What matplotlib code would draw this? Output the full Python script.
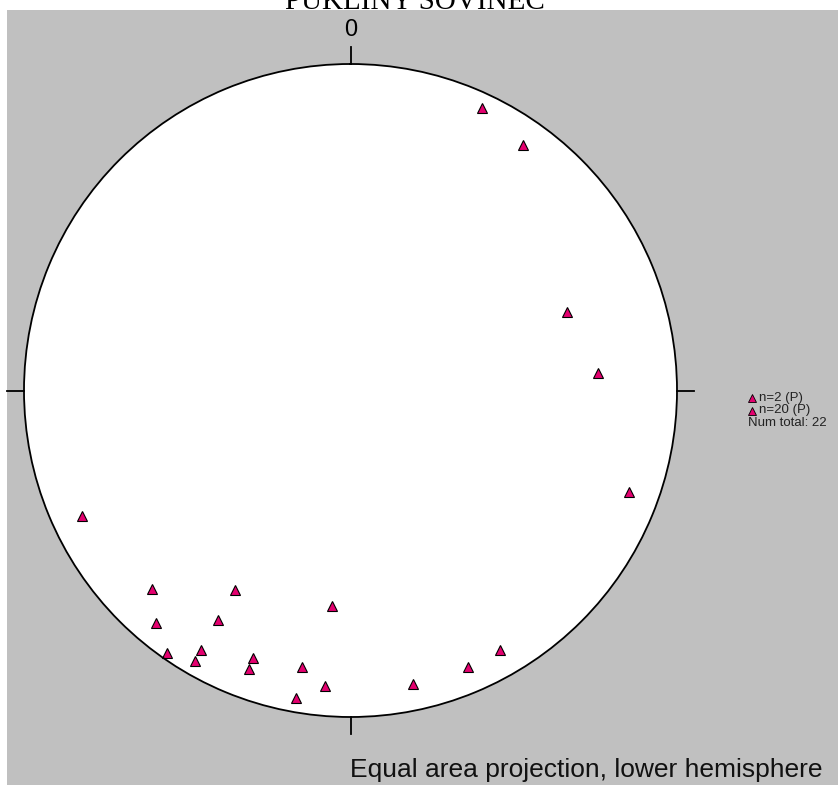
"""
Stereogram of joint poles (equal area, lower hemisphere)
"""
import numpy as np
import matplotlib
matplotlib.use('Agg')
import matplotlib.pyplot as plt
from matplotlib.lines import Line2D
from matplotlib.patches import Rectangle

plt.rcParams['font.family'] = ['Liberation Sans', 'DejaVu Sans']

TITLE = 'PUKLINY SOVINEC'
FOOTER = 'Equal area projection, lower hemisphere'

# first set of poles (trend / plunge in degrees)
trend_1 = [25, 35]
plunge_1 = [5, 9]

# second set of poles
trend_2 = [70, 86, 110, 245, 225, 210, 185, 220, 210, 215,
           210, 210, 200, 200, 190, 190, 185, 168, 157, 150]
plunge_2 = [30, 25, 10, 10, 15, 30, 34, 8, 20, 2,
            9, 5, 14, 10, 15, 5, 10, 9, 9, 9]

legend_labels = ['n=2 (P)', 'n=20 (P)']
total_label = 'Num total: 22'

POLE_COLOR = '#E4006F'


def equal_area(plunge):
    """Rayon normalise de la projection de Schmidt (1 = primitive)"""
    p = np.radians(90 - np.asarray(plunge, dtype=float))
    return np.sqrt(2) * np.sin(p / 2)


def makePlot():
    W, H = 838, 785
    fig = plt.figure(figsize=(W / 100, H / 100), dpi=100, facecolor='white')

    # fond gris (marge blanche en haut et a gauche)
    fig.add_artist(Rectangle((7 / W, 0), 1 - 7 / W, 1 - 10 / H,
                             transform=fig.transFigure, facecolor='#C0C0C0',
                             edgecolor='none', zorder=-1))

    # le cercle primitif
    cx, cy, R = 350.5, 390.5, 326.5
    ax = fig.add_axes([(cx - R) / W, (H - cy - R) / H, 2 * R / W, 2 * R / H],
                      projection='polar')
    ax.set_theta_zero_location('N')
    ax.set_theta_direction(-1)
    ax.set_ylim(0, 1)
    ax.grid(False)
    ax.set_xticks([])
    ax.set_yticks([])
    ax.set_facecolor('white')
    ax.spines['polar'].set_color('black')
    ax.spines['polar'].set_linewidth(1.3)

    # petits traits N / E / S / W
    for az in [0, 90, 180, 270]:
        ax.plot([np.radians(az)] * 2, [1, 1.052], color='black', lw=1.3,
                clip_on=False)
    ax.text(0, 1.104, '0', ha='center', va='center', fontsize=17,
            clip_on=False)

    # les poles
    for trend, plunge in [(trend_1, plunge_1), (trend_2, plunge_2)]:
        ax.plot(np.radians(trend), equal_area(plunge), linestyle='none',
                marker='^', markersize=7.5, markerfacecolor=POLE_COLOR,
                markeredgecolor='black', markeredgewidth=0.8, clip_on=False)

    # legende
    for i, lab in enumerate(legend_labels):
        y = 1 - (398 + 12.5 * i) / H
        fig.add_artist(Line2D([752 / W], [y], transform=fig.transFigure,
                              marker='^', markersize=6,
                              markerfacecolor=POLE_COLOR,
                              markeredgecolor='black', markeredgewidth=0.6))
        fig.text(759 / W, y, lab, fontsize=9.5, va='center', ha='left',
                 color='#222222')
    fig.text(748 / W, 1 - 423 / H, total_label, fontsize=9.5, va='center',
             ha='left', color='#222222')

    fig.text(285 / W, 1 - 9 / H, TITLE, fontsize=21, va='baseline',
             ha='left', family=['Liberation Serif', 'DejaVu Serif'])
    fig.text(350 / W, 1 - 777 / H, FOOTER, fontsize=19, va='baseline',
             ha='left', color='#111111')

    fig.savefig('out.png', dpi=100)
    plt.close(fig)


makePlot()
